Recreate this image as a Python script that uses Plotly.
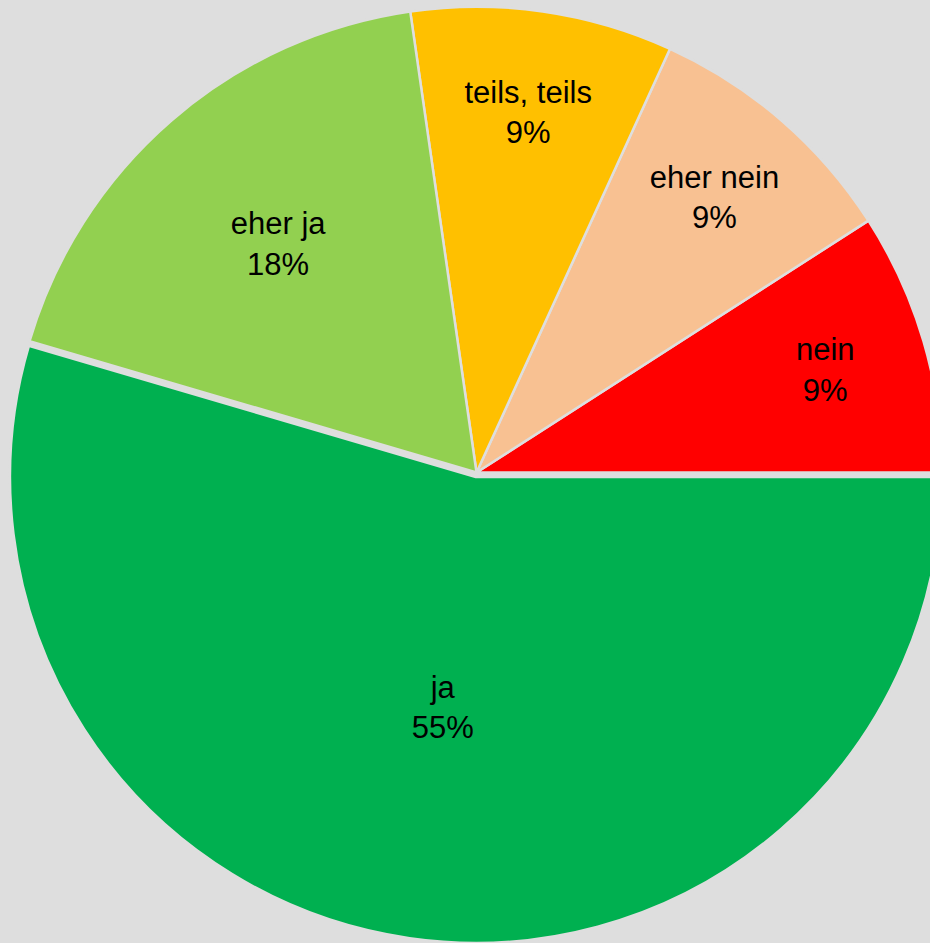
import plotly.graph_objects as go

# Antworten (Anzahl Nennungen), gegen den Uhrzeigersinn ab 3 Uhr
labels = ["nein", "eher nein", "teils, teils", "eher ja", "ja"]
counts = [1, 1, 1, 2, 6]
colors = ["#FF0000", "#F8C192", "#FFC000", "#92D050", "#00B050"]
pulls = [0, 0, 0, 0, 0.01]

bg = "#DEDEDE"

# plotly legt bei "counterclockwise" das Ende des ersten Segments auf "rotation";
# damit "nein" bei 3 Uhr beginnt, wird um dessen Winkel zurückgedreht
first_angle = 360 * counts[0] / sum(counts)

fig = go.Figure(
    go.Pie(
        labels=labels,
        values=counts,
        sort=False,
        direction="counterclockwise",
        rotation=90 - first_angle,
        pull=pulls,
        marker=dict(colors=colors, line=dict(color=bg, width=2.5)),
        texttemplate="%{label}<br>%{percent:.0%}",
        textposition="inside",
        insidetextorientation="horizontal",
        textfont=dict(family="Liberation Sans, Arial, sans-serif", size=31, color="black"),
        hoverinfo="label+percent",
        showlegend=False,
    )
)

fig.update_layout(
    width=948,
    height=943,
    margin=dict(l=6, r=1, t=2, b=0),
    paper_bgcolor=bg,
    plot_bgcolor=bg,
    uniformtext=dict(minsize=31, mode="show"),
)

fig.write_html(
    "out.html",
    post_script="document.documentElement.style.overflow='hidden';document.body.style.overflow='hidden';document.body.style.margin='0';",
)
